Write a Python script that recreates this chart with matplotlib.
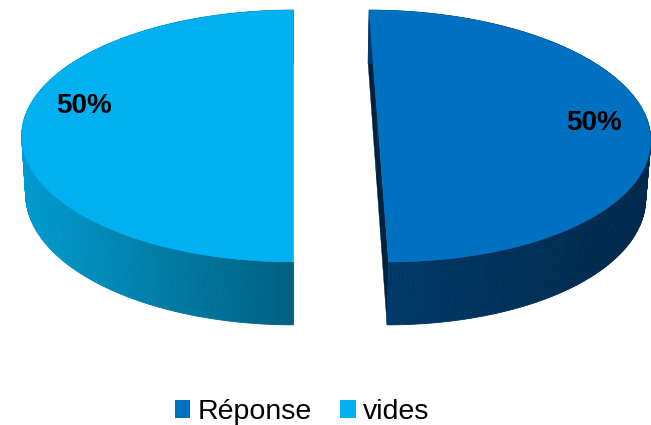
import numpy as np
import matplotlib
matplotlib.use("Agg")
import matplotlib.pyplot as plt
from matplotlib.patches import Polygon, Patch
from matplotlib.colors import to_rgb

# ---------------- data ----------------
categories = ["Réponse", "vides"]
values = [50, 50]
labels = ["50%", "50%"]

# ---------------- style ----------------
top_colors = ["#0070C0", "#00B0F0"]
wall_left_colors = ["#003A6A", "#009BD0"]
wall_right_colors = ["#00284A", "#00607F"]
cut_colors = ["#00223F", "#005A78"]
label_angle_offset = [0.0, -10.0]
label_radius = 0.80

plt.rcParams["font.family"] = ["Liberation Sans", "DejaVu Sans"]

W, Hpx = 651, 425
fig = plt.figure(figsize=(W / 100, Hpx / 100), dpi=100)
ax = fig.add_axes([0, 0, 1, 1])
ax.set_xlim(0, W)
ax.set_ylim(Hpx, 0)
ax.axis("off")

# ------------- 3D projection params -------------
elev = np.radians(27.4)
cs, sn = np.cos(elev), np.sin(elev)
Ldist = 7.8
explode = 0.156
Xc = -explode
depth = 0.245
F = 2106.0
X0, Y0 = 293.5, 121.7


def proj(X, Y, Z):
    X = np.asarray(X, float); Y = np.asarray(Y, float); Z = np.asarray(Z, float)
    den = Ldist + Y * cs - Z * sn
    sx = (X - Xc) / den
    sy = (Y * sn + Z * cs) / den
    return X0 + F * sx, Y0 - F * sy


def lerp(c1, c2, t):
    a, b = np.array(to_rgb(c1)), np.array(to_rgb(c2))
    return tuple(a + (b - a) * t)


cam = np.array([Xc, -Ldist * cs])
total = float(sum(values))
start = 90.0
slices = []
for i, v in enumerate(values):
    t1 = start
    t2 = start - 360.0 * v / total
    start = t2
    mid = np.radians((t1 + t2) / 2)
    cx, cy = explode * np.cos(mid), explode * np.sin(mid)
    slices.append((i, np.radians(t1), np.radians(t2), mid, cx, cy))

for (i, a1, a2, mid, cx, cy) in slices:
    th = np.linspace(a1, a2, 240)
    ex, ey = cx + np.cos(th), cy + np.sin(th)
    ptx, pty = proj(ex, ey, 0 * ex)
    pbx, pby = proj(ex, ey, 0 * ex - depth)
    xmin, xmax = ptx.min(), ptx.max()

    # cut faces
    for ae in (a1, a2):
        n = np.array([-np.sin(ae), np.cos(ae)])
        if n @ np.array([np.cos(mid), np.sin(mid)]) > 0:
            n = -n
        if n @ (cam - np.array([cx, cy])) > 1e-6:
            X = [cx, cx + np.cos(ae), cx + np.cos(ae), cx]
            Y = [cy, cy + np.sin(ae), cy + np.sin(ae), cy]
            Z = [0, 0, -depth, -depth]
            px, py = proj(X, Y, Z)
            ax.add_patch(Polygon(np.c_[px, py], closed=True,
                                 facecolor=cut_colors[i], edgecolor=cut_colors[i],
                                 linewidth=0.3, zorder=1))

    # outer wall quads, far to near
    order = np.argsort(-(ey[:-1] + ey[1:]))
    for k in order:
        quad = np.array([[ptx[k], pty[k]], [ptx[k + 1], pty[k + 1]],
                         [pbx[k + 1], pby[k + 1]], [pbx[k], pby[k]]])
        t = ((ptx[k] + ptx[k + 1]) / 2 - xmin) / (xmax - xmin)
        col = lerp(wall_left_colors[i], wall_right_colors[i], t)
        ax.add_patch(Polygon(quad, closed=True, facecolor=col, edgecolor=col,
                             linewidth=0.6, zorder=2))

    # top face
    cpx, cpy = proj([cx], [cy], [0])
    pts = np.vstack([[cpx[0], cpy[0]], np.c_[ptx, pty]])
    ax.add_patch(Polygon(pts, closed=True, facecolor=top_colors[i],
                         edgecolor=top_colors[i], linewidth=0.4, zorder=3))

    # label
    la = mid + np.radians(label_angle_offset[i])
    lx, ly = proj([cx + label_radius * np.cos(la)], [cy + label_radius * np.sin(la)], [0])
    ax.text(lx[0], ly[0] + 1.5, labels[i], ha="center", va="center", fontsize=20,
            fontweight="bold", color="black", zorder=5)

handles = [Patch(facecolor=top_colors[i], edgecolor="none", label=categories[i])
           for i in range(len(categories))]
fig.legend(handles=handles, loc="center", bbox_to_anchor=(302 / W, 1 - 412 / Hpx),
           ncol=2, frameon=False, fontsize=20.5, handlelength=0.55, handleheight=0.55,
           handletextpad=0.25, columnspacing=1.0, borderpad=0, labelcolor="black")

fig.savefig("out.png", dpi=100)
